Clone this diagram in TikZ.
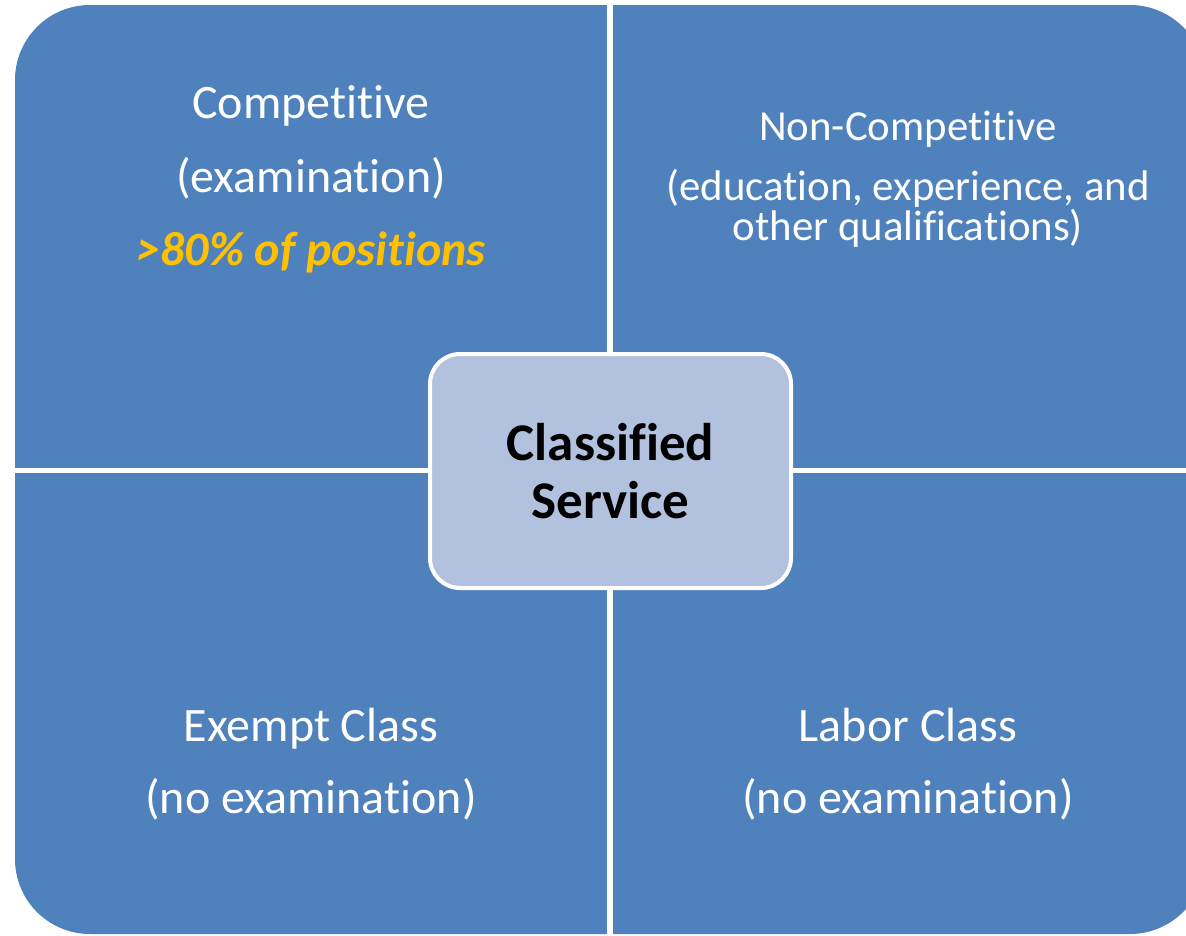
\documentclass[tikz,border=0pt]{standalone}
\usepackage{fontspec}
\setmainfont[Ligatures=NoCommon]{Carlito}
\definecolor{quadblue}{HTML}{4F81BD}
\definecolor{hubfill}{HTML}{B2C1DD}
\definecolor{shareyellow}{HTML}{FFC000}
\begin{document}
\begin{tikzpicture}[x=1pt, y=-1pt,
    quad text/.style={anchor=base, text=white, inner sep=0pt, font=\fontsize{48}{48}\selectfont},
    small text/.style={anchor=base, text=white, inner sep=0pt, font=\fontsize{42.8}{43}\selectfont},
    hub/.style={rectangle, rounded corners=30pt, draw=white, line width=4pt, fill=hubfill,
        minimum width=361pt, minimum height=234pt, align=center,
        font=\fontsize{53}{58}\selectfont\bfseries}]
    \useasboundingbox (0,0) rectangle (1186,935);
    \clip (0,0) rectangle (1186,935);

    % quadrants
    \fill[quadblue, rounded corners=75pt] (15,5) rectangle (1205,934);
    \draw[white, line width=5.4pt] (610,0) -- (610,940);
    \draw[white, line width=5.4pt] (10,470.5) -- (1210,470.5);

    % top left
    \node[quad text] (comp) at (311,118) {Competitive};
    \node[quad text] (compexam) at (311,192) {(examination)};
    \node[quad text, text=shareyellow, font=\fontsize{48}{48}\selectfont\bfseries\itshape] (compshare) at (311,265) {>80\% of positions};

    % top right
    \node[small text] (noncomp) at (908,140) {Non-Competitive};
    \node[small text] (noncompa) at (908,200) {(education, experience, and};
    \node[small text] (noncompb) at (908,240) {other qualifications)};

    % bottom
    \node[quad text] (exempt) at (311,741) {Exempt Class};
    \node[quad text] (exemptexam) at (311,813) {(no examination)};
    \node[quad text] (labor) at (908,741) {Labor Class};
    \node[quad text] (laborexam) at (908,813) {(no examination)};

    % centre
    \node[hub] (classified) at (610.5,471) {Classified\\Service};
\end{tikzpicture}
\end{document}
